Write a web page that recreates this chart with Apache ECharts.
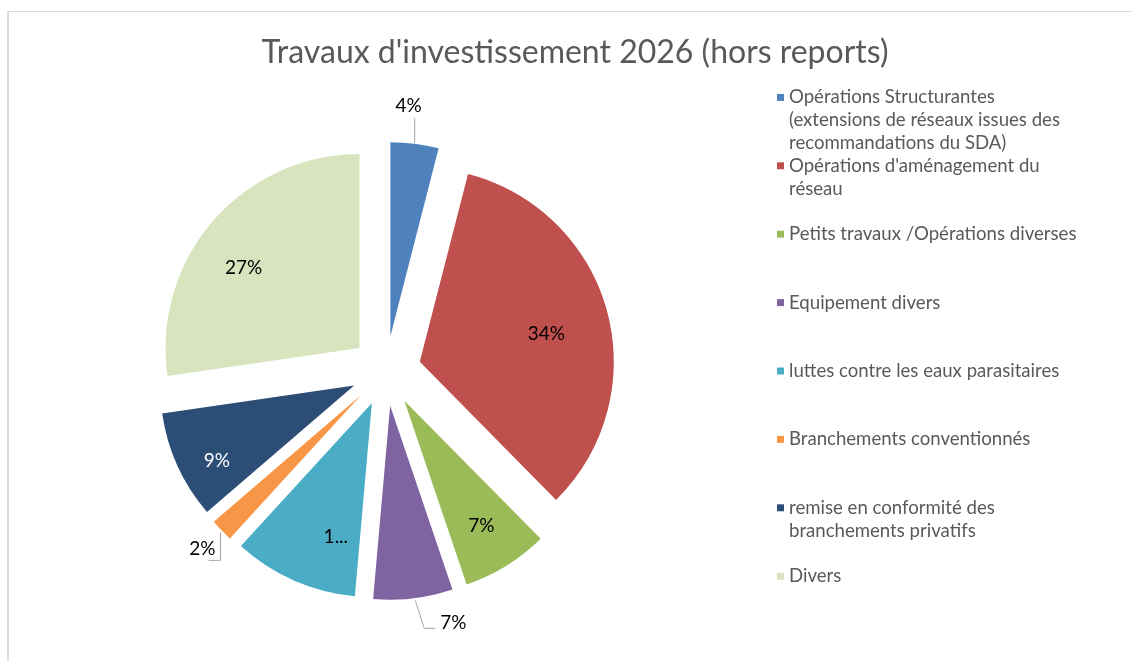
<!DOCTYPE html>
<html>
<head>
<meta charset="utf-8">
<script src="https://cdn.jsdelivr.net/npm/echarts@6/dist/echarts.min.js"></script>
<style>
html, body { margin: 0; padding: 0; background: #fff; overflow: hidden; }
#frame { position: absolute; left: 7px; top: 11px; width: 1130px; height: 660px; border-left: 2px solid #d9d9d9; border-top: 1px solid #d9d9d9; }
#chart { position: absolute; left: 0; top: 0; width: 1132px; height: 661px; }
</style>
</head>
<body>
<div id="frame"></div>
<div id="chart"></div>
<script>
var title = "Travaux d'investissement 2026 (hors reports)";
var categories = [
    'Opérations Structurantes\n(extensions de réseaux issues des\nrecommandations du SDA)',
    "Opérations d'aménagement du\nréseau",
    'Petits travaux /Opérations diverses',
    'Equipement divers',
    'luttes contre les eaux parasitaires',
    'Branchements conventionnés',
    'remise en conformité des\nbranchements privatifs',
    'Divers'
];
var values = [4.0, 33.6, 7.2, 6.6, 10.4, 1.9, 9.0, 27.3];
var colors = ['#4F81BD', '#C0504D', '#9BBB59', '#8064A2', '#4BACC6', '#F79646', '#2C4D75', '#D7E4BD'];
// labels drawn outside the slice, with a leader line
var outside = [0, 3, 5];
// label text Excel cut short
var cutLabels = { 4: '1...' };
// small shifts [dx, dy] of the inside labels, to sit where Excel put them
var labelShift = { 1: [-15, 10], 4: [23, 0], 6: [-4, 15], 7: [-5, 16] };

var font = 'Lato, Carlito, Calibri, sans-serif';
var pieCenter = [386, 371];
var pieRadius = 194;
var explode = 35;

function pct(p) {
    return Math.round(p.percent) + '%';
}

// point on the outer arc of an exploded slice, at its mid angle
var total = values.reduce(function (a, b) { return a + b; }, 0);
function edgeOf(i) {
    var before = 0;
    for (var k = 0; k < i; k++) before += values[k];
    var mid = 2 * Math.PI * (before + values[i] / 2) / total;
    var d = pieRadius + explode;
    return [pieCenter[0] + d * Math.sin(mid), pieCenter[1] - d * Math.cos(mid)];
}

// leader line shapes for the outside labels, Excel style
function outsideLayout(p) {
    var i = p.dataIndex;
    var s = edgeOf(i);
    if (i === 0) {
        return {
            x: s[0] - 6, y: s[1] - 38, align: 'center', verticalAlign: 'middle',
            labelLinePoints: [[s[0], s[1] - 1], [s[0], s[1] - 26], [s[0], s[1] - 26]]
        };
    }
    if (i === 3) {
        return {
            x: s[0] + 27, y: s[1] + 25, align: 'left', verticalAlign: 'middle',
            labelLinePoints: [[s[0] + 2, s[1] + 2], [s[0] + 11, s[1] + 30], [s[0] + 22, s[1] + 30]]
        };
    }
    if (i === 5) {
        return {
            x: s[0] - 6, y: s[1] + 19, align: 'right', verticalAlign: 'middle',
            labelLinePoints: [[s[0] - 1, s[1] + 2], [s[0] - 1, s[1] + 30], [s[0] - 13, s[1] + 30]]
        };
    }
    return {};
}

var rich = {
    g: { width: 5, height: 7, lineHeight: 22.8 },
    s: { width: 12, height: 7, lineHeight: 22.8 },
    t: { color: '#595959', fontSize: 18.6, fontFamily: font, lineHeight: 22.8, verticalAlign: 'middle' }
};
colors.forEach(function (c, i) {
    rich['c' + i] = { width: 7, height: 7, backgroundColor: c, verticalAlign: 'middle', lineHeight: 22.8 };
});

var sliceData = categories.map(function (name, i) {
    return { name: name, value: values[i], selected: true, itemStyle: { color: colors[i] } };
});

var insideData = categories.map(function (name, i) {
    var sh = labelShift[i] || [0, 0];
    var label = {
        show: outside.indexOf(i) < 0,
        color: i === 6 ? '#fff' : '#000',
        // horizontal shift through side padding, vertical shift through an empty first line
        padding: [0, sh[0] < 0 ? -2 * sh[0] : 0, 0, sh[0] > 0 ? 2 * sh[0] : 0],
        formatter: function (p) {
            var txt = cutLabels[i] || pct(p);
            return sh[1] > 0 ? '\n' + txt : txt;
        }
    };
    if (sh[1] > 0) label.lineHeight = 2 * sh[1];
    return { name: name, value: values[i], selected: true, label: label };
});

var outsideData = categories.map(function (name, i) {
    var out = outside.indexOf(i) >= 0;
    return { name: name, value: values[i], label: { show: out }, labelLine: { show: out } };
});

var chart = echarts.init(document.getElementById('chart'));
chart.setOption({
    animation: false,
    title: {
        text: title,
        left: 575,
        top: 37,
        padding: 0,
        textAlign: 'center',
        textStyle: { color: '#595959', fontSize: 32, fontWeight: 'normal', fontFamily: font }
    },
    legend: {
        orient: 'vertical',
        left: 772,
        top: 86,
        padding: 0,
        itemGap: 0,
        icon: 'none',
        itemWidth: 0,
        itemHeight: 0,
        selectedMode: false,
        data: categories,
        formatter: function (name) {
            var i = categories.indexOf(name);
            var lines = name.split('\n');
            var out = ['{c' + i + '|}{g|}{t|' + lines[0] + '}'];
            for (var k = 1; k < lines.length; k++) {
                out.push('{s|}{t|' + lines[k] + '}');
            }
            while (out.length < 3) out.push('{t| }');
            return out.join('\n');
        },
        textStyle: { lineHeight: 22.8, rich: rich }
    },
    series: [
        {
            // the exploded slices
            type: 'pie',
            center: pieCenter,
            radius: pieRadius,
            startAngle: 90,
            selectedMode: 'multiple',
            selectedOffset: explode,
            emphasis: { disabled: true },
            label: { show: false },
            labelLine: { show: false },
            data: sliceData
        },
        {
            // labels sitting inside the slices
            type: 'pie',
            center: pieCenter,
            radius: [pieRadius * 0.48, pieRadius],
            startAngle: 90,
            selectedMode: 'multiple',
            selectedOffset: explode,
            silent: true,
            avoidLabelOverlap: false,
            itemStyle: { color: 'rgba(0,0,0,0)' },
            label: { position: 'inside', fontSize: 19, fontFamily: font },
            labelLine: { show: false },
            data: insideData
        },
        {
            // labels outside the small slices
            type: 'pie',
            center: pieCenter,
            radius: pieRadius + explode,
            startAngle: 90,
            silent: true,
            avoidLabelOverlap: false,
            itemStyle: { color: 'rgba(0,0,0,0)' },
            label: { position: 'outside', formatter: pct, color: '#000', fontSize: 19, fontFamily: font },
            labelLine: { length: 20, length2: 10, lineStyle: { color: '#a6a6a6', width: 1 } },
            labelLayout: outsideLayout,
            data: outsideData
        }
    ]
});
</script>
</body>
</html>
